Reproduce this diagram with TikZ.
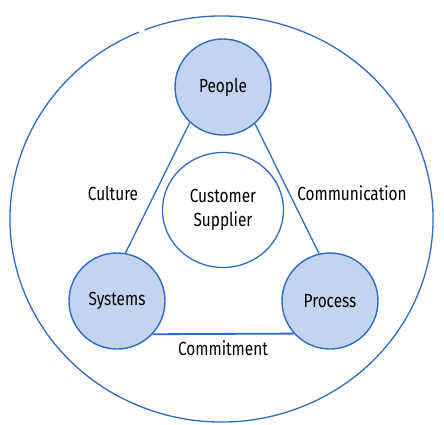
\documentclass[tikz,border=0pt]{standalone}
\usepackage{fontspec}
\usetikzlibrary{shapes.geometric}
\setmainfont{Fira Sans}[FakeStretch=0.81]
\definecolor{edgeblue}{HTML}{2B6CCB}
\definecolor{fillblue}{HTML}{C3D4F0}
\newcommand{\dropby}[1]{\raisebox{-2pt}{#1}}
\begin{document}
\begin{tikzpicture}[x=1pt,y=-1pt,
  bigc/.style={circle,draw=edgeblue,fill=fillblue,line width=1.4pt,minimum size=96pt,inner sep=0pt,font=\fontsize{19}{22}\selectfont},
  conn/.style={draw=edgeblue,line width=1.3pt},
  lbl/.style={font=\fontsize{19}{22}\selectfont,inner sep=0pt}]
\useasboundingbox (0,0) rectangle (444,425);
\coordinate (c) at (221.5,219);
\draw[edgeblue,line width=1.3pt] (c) ++(113.0:211.5pt and 203pt) arc[start angle=113.0, end angle=471.3, x radius=211.5pt, y radius=203pt];
\node[ellipse,draw=edgeblue,line width=1.3pt,minimum width=121pt,minimum height=115pt,inner sep=0pt,align=center,font=\fontsize{19}{24}\selectfont] (cs) at (223,210) {\raisebox{-3pt}{Customer}\\\raisebox{-3pt}{Supplier}};
\node[bigc] (people) at (223,87) {\dropby{People}};
\node[bigc] (systems) at (117,301) {\dropby{Systems}};
\node[bigc] (process) at (330,301) {\dropby{Process}};
\draw[conn] (people.227.5) -- (systems.80.5);
\draw[conn] (people.311) -- (process.103);
\draw[conn,line width=1.8pt] (systems.317.6) -- (process.222.4);
\node[lbl] (culture) at (113,193) {Culture};
\node[lbl] (comm) at (352,193) {Communication};
\node[lbl] (commit) at (223,348) {Commitment};
\end{tikzpicture}
\end{document}
